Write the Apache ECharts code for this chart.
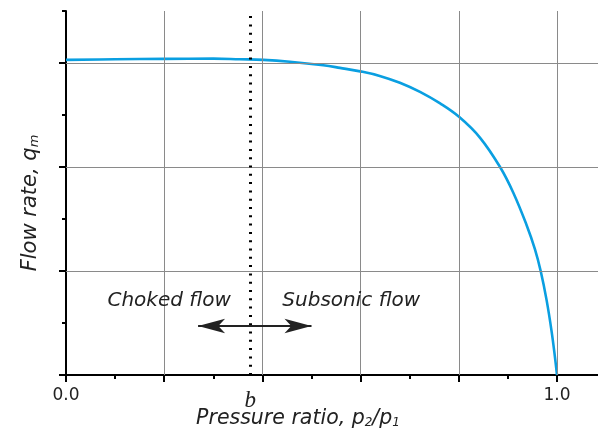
<!DOCTYPE html>
<html>
<head>
<meta charset="utf-8">
<script src="https://cdn.jsdelivr.net/npm/echarts@6/dist/echarts.min.js"></script>
<style>html,body{margin:0;padding:0;background:#fff}#c{width:598px;height:439px}</style>
</head>
<body>
<div id="c"></div>
<script>
// Data
const ratio = [0, 0.1, 0.2, 0.3, 0.354, 0.402, 0.456, 0.524, 0.558, 0.602, 0.639, 0.680, 0.721, 0.762, 0.801, 0.843, 0.884, 0.911, 0.938, 0.955, 0.967, 0.979, 0.989, 0.996, 1.0];
const flow  = [3.03, 3.036, 3.04, 3.042, 3.036, 3.03, 3.012, 2.978, 2.953, 2.917, 2.876, 2.81, 2.722, 2.611, 2.48, 2.283, 2.0, 1.753, 1.443, 1.21, 0.995, 0.715, 0.42, 0.165, 0];
const xMajorTicks = [0, 0.2, 0.4, 0.6, 0.8, 1.0];
const xMinorTicks = [0.1, 0.3, 0.5, 0.7, 0.9];
const xTickLabels = [0, 1.0];
const yMajorTicks = [0, 1, 2, 3];
const yMinorTicks = [0.5, 1.5, 2.5, 3.5];
const xGridLines = [0.2, 0.4, 0.6, 0.8, 1.0];
const yGridLines = [1, 2, 3];
const bRatio = 0.375;
const bLabel = 'b';
const arrowStart = [0.269, 0.471];
const arrowEnd = [0.5, 0.471];
const regionLabels = ['Choked flow', 'Subsonic flow'];
const regionLabelPos = [[0.21, 0.71], [0.581, 0.71]];

const TXT = '#222';
const FONT = 'DejaVu Sans';
const chart = echarts.init(document.getElementById('c'), null, {renderer: 'canvas'});
const rowData = ratio.map((r, i) => [r, flow[i]]);

chart.setOption({
  animation: false,
  backgroundColor: '#fff',
  grid: {left: 66, right: 0, top: 11, bottom: 64, containLabel: false, outerBoundsMode: 'none'},
  xAxis: [
    {
      type: 'value', min: 0, max: 1.0835, interval: 0.2, position: 'bottom',
      axisLine: {show: true, onZero: false, lineStyle: {color: '#000', width: 2}},
      axisTick: {show: true, customValues: xMajorTicks, length: 7, lineStyle: {color: '#000', width: 2}},
      axisLabel: {show: true, customValues: xTickLabels, formatter: v => Number(v).toFixed(1),
                  color: TXT, fontFamily: FONT, fontSize: 17, margin: 12},
      splitLine: {show: false}
    },
    {
      type: 'value', min: 0, max: 1.0835, interval: 0.1, position: 'bottom', offset: 0,
      axisLine: {show: false, onZero: false},
      axisTick: {show: true, customValues: xMinorTicks, length: 4, lineStyle: {color: '#000', width: 2}},
      axisLabel: {show: true, customValues: [bRatio], formatter: () => bLabel,
                  color: TXT, fontFamily: 'Liberation Serif', fontStyle: 'italic', fontSize: 23, margin: 14},
      splitLine: {show: false}
    }
  ],
  yAxis: [
    {
      type: 'value', min: 0, max: 3.5, interval: 1, position: 'left',
      axisLine: {show: true, onZero: false, lineStyle: {color: '#000', width: 2}},
      axisTick: {show: true, customValues: yMajorTicks, length: 7, lineStyle: {color: '#000', width: 2}},
      axisLabel: {show: false},
      splitLine: {show: false}
    },
    {
      type: 'value', min: 0, max: 3.5, interval: 0.5, position: 'left', offset: 0,
      axisLine: {show: false, onZero: false},
      axisTick: {show: true, customValues: yMinorTicks, length: 4, lineStyle: {color: '#000', width: 2}},
      axisLabel: {show: false},
      splitLine: {show: false}
    }
  ],
  series: [
    {
      type: 'line', name: 'grid', data: [], z: 1, silent: true,
      markLine: {
        silent: true, symbol: 'none', animation: false,
        label: {show: false},
        lineStyle: {color: '#8a8a8a', width: 1, type: 'solid'},
        emphasis: {disabled: true},
        data: xGridLines.map(v => ({xAxis: v})).concat(yGridLines.map(v => ({yAxis: v})))
      }
    },
    {
      type: 'line', name: 'flow', data: rowData, z: 3,
      xAxisIndex: 0, yAxisIndex: 0,
      showSymbol: false, symbol: 'none',
      smooth: 0.4,
      lineStyle: {color: '#0a9fe1', width: 2.6},
      silent: true
    },
    {
      type: 'line', name: 'annot', data: [], z: 4, silent: true,
      markLine: {
        silent: true, animation: false,
        label: {show: false},
        emphasis: {disabled: true},
        data: [
          [{xAxis: bRatio, yAxis: 0, symbol: 'none', lineStyle: {color: '#000', width: 3, type: [2, 6.3]}},
           {xAxis: bRatio, yAxis: 3.5, symbol: 'none'}],
          [{coord: arrowStart, symbol: 'arrow', symbolSize: [11, 27], lineStyle: {color: '#222', width: 2, type: 'solid'}},
           {coord: arrowEnd, symbol: 'arrow', symbolSize: [11, 27]}]
        ]
      },
      markPoint: {
        silent: true, animation: false,
        symbol: 'circle', symbolSize: 0,
        label: {show: true, position: 'inside', color: TXT, fontFamily: FONT, fontStyle: 'italic', fontSize: 20,
                formatter: p => p.name},
        data: regionLabels.map((t, i) => ({name: t, coord: regionLabelPos[i]}))
      }
    }
  ],
  graphic: [
    {
      type: 'text', x: 31, y: 203, rotation: Math.PI / 2, silent: true,
      style: {
        text: '{n|Flow rate, q}{s|m}', align: 'center', verticalAlign: 'middle',
        rich: {
          n: {fontFamily: FONT, fontStyle: 'italic', fontSize: 21, fill: TXT, lineHeight: 26},
          s: {fontFamily: FONT, fontStyle: 'italic', fontSize: 13, fill: TXT, lineHeight: 14, padding: [8, 0, 0, 0]}
        }
      }
    },
    {
      type: 'text', x: 298, y: 419, silent: true,
      style: {
        text: '{n|Pressure ratio, p}{s|2}{n|/p}{s|1}', align: 'center', verticalAlign: 'middle',
        rich: {
          n: {fontFamily: FONT, fontStyle: 'italic', fontSize: 20.5, fill: TXT, lineHeight: 26},
          s: {fontFamily: FONT, fontStyle: 'italic', fontSize: 12, fill: TXT, lineHeight: 14, padding: [8, 0, 0, 0]}
        }
      }
    }
  ]
});
</script>
</body>
</html>
